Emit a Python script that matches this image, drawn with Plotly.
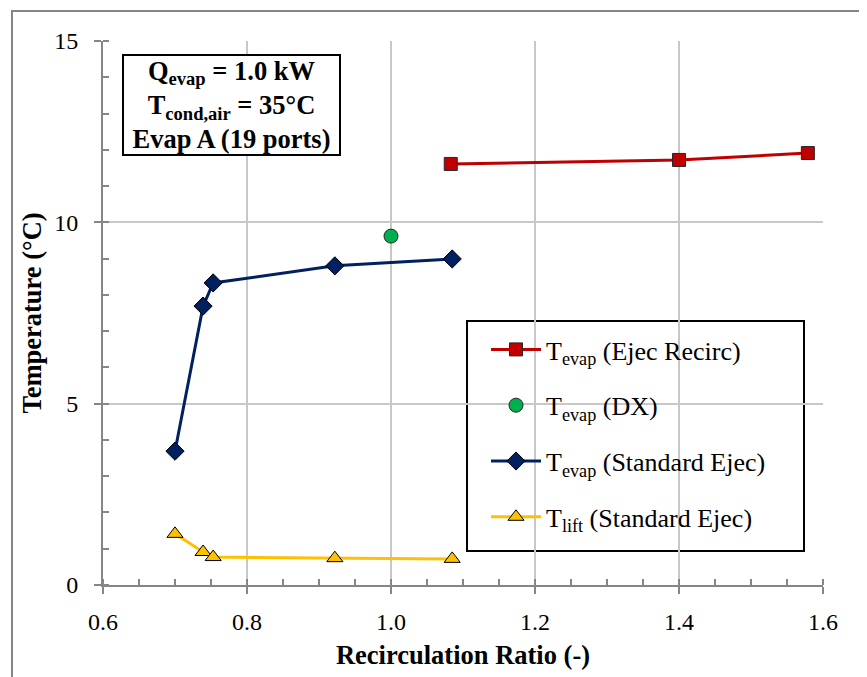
import plotly.graph_objects as go

# ---- data ----
ejec_recirc_x = [1.083, 1.400, 1.579]
ejec_recirc_y = [11.61, 11.72, 11.91]

dx_x = [1.0]
dx_y = [9.62]

std_ejec_x = [0.700, 0.739, 0.753, 0.922, 1.085]
std_ejec_y = [3.69, 7.69, 8.33, 8.80, 8.99]

lift_x = [0.700, 0.739, 0.753, 0.922, 1.085]
lift_y = [1.41, 0.91, 0.77, 0.74, 0.72]

x_ticks = [0.6, 0.8, 1.0, 1.2, 1.4, 1.6]
x_tick_labels = ["0.6", "0.8", "1.0", "1.2", "1.4", "1.6"]
y_ticks = [0, 5, 10, 15]
y_tick_labels = ["0", "5", "10", "15"]

FONT = "Liberation Serif"

fig = go.Figure()

fig.add_trace(go.Scatter(
    x=ejec_recirc_x, y=ejec_recirc_y, mode="lines+markers",
    name="T<sub>evap</sub> (Ejec Recirc)", legendgroup="a",
    line=dict(color="#C00000", width=3),
    marker=dict(symbol="square", size=13, color="#C00000",
                line=dict(color="#262626", width=1)),
))
fig.add_trace(go.Scatter(
    x=dx_x, y=dx_y, mode="markers",
    name="T<sub>evap</sub> (DX)", legendgroup="b",
    marker=dict(symbol="circle", size=14, color="#00B050",
                line=dict(color="#262626", width=1)),
))
fig.add_trace(go.Scatter(
    x=std_ejec_x, y=std_ejec_y, mode="lines+markers",
    name="T<sub>evap</sub> (Standard Ejec)", legendgroup="c",
    line=dict(color="#002060", width=3),
    marker=dict(symbol="diamond", size=14, color="#002060",
                line=dict(color="#000000", width=1)),
))
fig.add_trace(go.Scatter(
    x=lift_x, y=lift_y, mode="lines+markers",
    name="T<sub>lift</sub> (Standard Ejec)", legendgroup="d",
    line=dict(color="#FFC000", width=3),
    marker=dict(symbol="triangle-up", size=14, color="#FFC000",
                line=dict(color="#000000", width=1)),
))
# empty helper trace so the overlay axes (inner half of the major ticks) get drawn
fig.add_trace(go.Scatter(x=[], y=[], xaxis="x2", yaxis="y2",
                         showlegend=False, hoverinfo="skip"))

axis_common = dict(
    showline=True, linecolor="#868686", linewidth=2,
    gridcolor="#C8C8C8", gridwidth=1.5,
    ticks="outside", ticklen=7, tickwidth=2, tickcolor="#868686",
    tickfont=dict(family=FONT, size=24, color="black"),
    zeroline=False, mirror=False, automargin=False,
)

fig.update_layout(
    xaxis=dict(
        range=[0.6, 1.6], tickvals=x_ticks, ticktext=x_tick_labels,
        minor=dict(dtick=0.05, ticks="inside", ticklen=6, tickcolor="#868686",
                   tickwidth=2, showgrid=False),
        title=dict(text="<b>Recirculation Ratio (-)</b>",
                   font=dict(family=FONT, size=26.5, color="black"), standoff=12),
        ticklabelstandoff=7,
        **axis_common,
    ),
    yaxis=dict(
        range=[0, 15], tickvals=y_ticks, ticktext=y_tick_labels,
        minor=dict(dtick=1, ticks="inside", ticklen=6, tickcolor="#868686",
                   tickwidth=2, showgrid=False),
        title=dict(text="<b>Temperature (°C)</b>",
                   font=dict(family=FONT, size=26.5, color="black"), standoff=5),
        ticklabelstandoff=11,
        **axis_common,
    ),
)

# plot area on screen: x 103..823 px, y 41..585 px (page has an 8 px body offset)
W, H = 720.0, 544.0
def px_x(p):
    return (p - 103) / W
def px_y(p):
    return (585 - p) / H

shapes = [
    # outer chart border
    dict(type="rect", xref="paper", yref="paper",
         x0=px_x(12), x1=px_x(880), y0=px_y(690), y1=px_y(11),
         line=dict(color="#868686", width=2), fillcolor="rgba(0,0,0,0)",
         layer="below"),
    # legend box
    dict(type="rect", xref="paper", yref="paper",
         x0=px_x(467), x1=px_x(804), y0=px_y(551), y1=px_y(321),
         line=dict(color="black", width=2), fillcolor="white",
         layer="between"),
]

fig.update_layout(
    width=867, height=677,
    margin=dict(l=95, r=52, t=33, b=100),
    plot_bgcolor="white", paper_bgcolor="white",
    font=dict(family=FONT, color="black"),
    shapes=shapes,
    showlegend=True,
    xaxis2=dict(overlaying="x", range=[0.6, 1.6], tickvals=x_ticks,
                ticks="inside", ticklen=6, tickwidth=2, tickcolor="#868686",
                showticklabels=False, showgrid=False, showline=False,
                zeroline=False, automargin=False, side="bottom"),
    yaxis2=dict(overlaying="y", range=[0, 15], tickvals=y_ticks,
                ticks="inside", ticklen=6, tickwidth=2, tickcolor="#868686",
                showticklabels=False, showgrid=False, showline=False,
                zeroline=False, automargin=False, side="left"),
    legend=dict(
        x=px_x(486), y=px_y(326), xanchor="left", yanchor="top",
        bgcolor="rgba(0,0,0,0)", borderwidth=0,
        font=dict(family=FONT, size=26, color="black"),
        traceorder="grouped", tracegroupgap=19,
        itemwidth=50,
    ),
    annotations=[dict(
        xref="paper", yref="paper", x=px_x(231), y=px_y(105.5),
        xanchor="center", yanchor="middle", showarrow=False,
        text="<b>Q<sub>evap</sub> = 1.0 kW<br>T<sub>cond,air</sub> = 35°C<br>Evap A (19 ports)</b>",
        font=dict(family=FONT, size=26.5, color="black"),
        align="center", bordercolor="black", borderwidth=2, borderpad=0,
        bgcolor="white", width=215, height=98,
    )],
)

fig.write_html("out.html")
